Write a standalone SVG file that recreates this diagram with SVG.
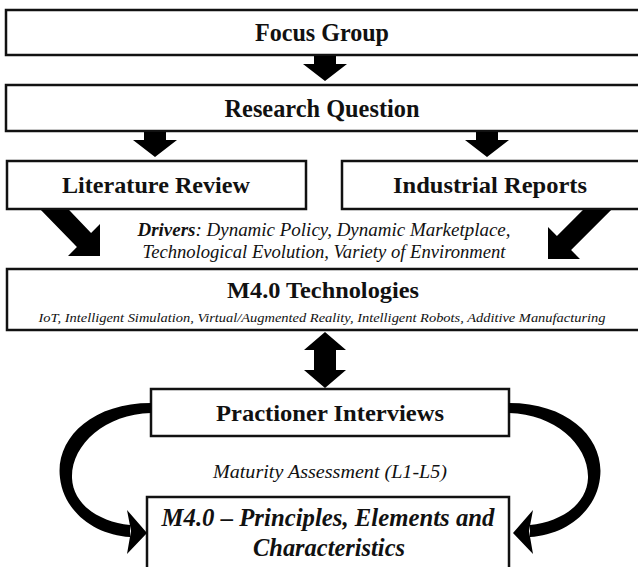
<svg xmlns="http://www.w3.org/2000/svg" width="638" height="567" viewBox="0 0 638 567">
<style>
.box{fill:#fff;stroke:#111;stroke-width:2.5}
.t{fill:#111;text-anchor:middle}
.b{font-weight:bold}
.i{font-style:italic}
.arr{fill:#000}
</style>
<rect width="638" height="567" fill="#fff"/>
<g font-family="Liberation Serif, serif">
<g id="focus-group"><rect class="box" x="6" y="10" width="640" height="45"/><text class="t b" x="322" y="41" font-size="25" textLength="134" lengthAdjust="spacingAndGlyphs">Focus Group</text></g>
<g id="research-question"><rect class="box" x="6" y="85" width="640" height="46"/><text class="t b" x="322" y="117" font-size="25" textLength="195" lengthAdjust="spacingAndGlyphs">Research Question</text></g>
<g id="literature-review"><rect class="box" x="7" y="161" width="299" height="48"/><text class="t b" x="156" y="193" font-size="24" textLength="188" lengthAdjust="spacingAndGlyphs">Literature Review</text></g>
<g id="industrial-reports"><rect class="box" x="342" y="161" width="300" height="48"/><text class="t b" x="490" y="193" font-size="24" textLength="194" lengthAdjust="spacingAndGlyphs">Industrial Reports</text></g>
<g id="drivers"><text class="t i" x="324" y="236" font-size="18" textLength="373" lengthAdjust="spacingAndGlyphs"><tspan font-weight="bold">Drivers</tspan>: Dynamic Policy, Dynamic Marketplace,</text><text class="t i" x="324" y="258" font-size="18" textLength="363" lengthAdjust="spacingAndGlyphs">Technological Evolution, Variety of Environment</text></g>
<g id="m40-technologies"><rect class="box" x="7" y="269" width="640" height="61"/><text class="t b" x="323" y="298" font-size="24" textLength="192" lengthAdjust="spacingAndGlyphs">M4.0 Technologies</text><text class="t i" x="322" y="322" font-size="13" textLength="567" lengthAdjust="spacingAndGlyphs">IoT, Intelligent Simulation, Virtual/Augmented Reality, Intelligent Robots, Additive Manufacturing</text></g>
<g id="practioner-interviews"><rect class="box" x="151" y="389" width="358" height="47"/><text class="t b" x="330" y="421" font-size="24" textLength="228" lengthAdjust="spacingAndGlyphs">Practioner Interviews</text></g>
<g id="maturity"><text class="t i" x="330" y="478" font-size="19" textLength="234" lengthAdjust="spacingAndGlyphs">Maturity Assessment (L1-L5)</text></g>
<g id="m40-principles"><rect class="box" x="147" y="497" width="362" height="75"/><text class="t b i" x="328" y="526" font-size="25" textLength="333" lengthAdjust="spacingAndGlyphs">M4.0 – Principles, Elements and</text><text class="t b i" x="329" y="556" font-size="25" textLength="152" lengthAdjust="spacingAndGlyphs">Characteristics</text></g>
</g>
<g id="connectors">
<polygon class="arr" points="314,56 336,56 336,64 347,64 325,81 303,64 314,64"/>
<polygon class="arr" points="144,132 166,132 166,140 177,140 155,157 133,140 144,140"/>
<polygon class="arr" points="476,132 498,132 498,140 509,140 487,157 465,140 476,140"/>
<polygon class="arr" points="40.9,210 69.1,210 91.07,232.93 100,224 100,256 68,256 76.93,247.07"/>
<polygon class="arr" points="582.9,210 611.1,210 571.07,250.07 580,259 548,259 548,227 556.93,235.93"/>
<polygon class="arr" points="325,332 346,350 336,350 336,370 346,370 325,388 304,370 314,370 314,350 304,350"/>
<path class="arr" d="M151,403 C90,403 55,440 60,478 C64,512 95,535 130,537 L130,525 C100,522 73,505 72,478 C71,445 105,414 151,413 Z"/>
<polygon class="arr" points="127,510 147,533 127,554 131,531"/>
<path class="arr" d="M509,403 C570,403 605,440 600,478 C596,512 565,535 530,537 L530,525 C560,522 587,505 588,478 C589,445 555,414 509,413 Z"/>
<polygon class="arr" points="533,510 513,533 533,554 529,531"/>
</g>
</svg>
